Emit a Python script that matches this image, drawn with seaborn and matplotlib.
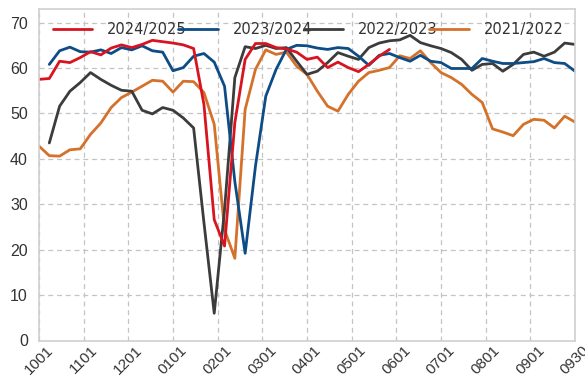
import numpy as np
import pandas as pd
import seaborn as sns
import matplotlib.pyplot as plt

## data ---------------------------------------------------------------------------------
# weekly index from 10-01 (week 0) to 09-30 (week 52)
tick_labels = ['1001', '1101', '1201', '0101', '0201', '0301', '0401',
               '0501', '0601', '0701', '0801', '0901', '0930']

seasons = ['2024/2025', '2023/2024', '2022/2023', '2021/2022']
colors = ['#d7141f', '#0e4c86', '#3c3c3c', '#d4712a']

# 2024/2025, weeks 0-34
s2425 = [57.5, 57.7, 61.5, 61.2, 62.3, 63.6, 62.9, 64.4, 65.1, 64.5,
         65.2, 66.1, 65.8, 65.5, 65.1, 64.3, 52.0, 26.6, 20.8, 48.0,
         61.9, 65.4, 65.4, 64.5, 64.2, 63.5, 61.9, 62.4, 60.1, 61.3,
         60.1, 59.2, 60.8, 62.6, 64.1]
# 2023/2024, weeks 1-52
s2324 = [60.8, 63.8, 64.6, 63.6, 63.5, 64.0, 63.2, 64.5, 64.0, 64.9,
         63.8, 63.5, 59.4, 60.1, 62.6, 63.2, 61.3, 56.0, 35.0, 19.2,
         38.4, 53.8, 59.7, 64.1, 65.0, 64.9, 64.4, 64.1, 64.5, 64.3,
         62.6, 60.6, 62.8, 63.2, 62.3, 61.5, 62.8, 61.5, 61.2, 59.9,
         59.9, 59.9, 62.1, 61.5, 61.0, 61.0, 61.2, 61.4, 62.1, 61.2,
         61.0, 59.3]
# 2022/2023, weeks 1-52
s2223 = [43.5, 51.6, 54.9, 56.8, 59.0, 57.5, 56.2, 55.1, 54.9, 50.7,
         49.9, 51.3, 50.7, 49.0, 46.8, 26.0, 6.0, 28.8, 57.9, 64.7,
         64.3, 65.0, 64.3, 64.5, 61.5, 58.6, 59.3, 61.2, 63.4, 62.6,
         61.9, 64.5, 65.5, 66.0, 66.2, 67.2, 65.6, 64.9, 64.3, 63.4,
         61.9, 59.5, 60.8, 61.0, 59.3, 60.8, 63.0, 63.5, 62.6, 63.5,
         65.5, 65.2]
# 2021/2022, weeks 0-52
s2122 = [42.8, 40.7, 40.6, 42.0, 42.2, 45.4, 47.9, 51.3, 53.5, 54.7,
         56.0, 57.3, 57.1, 54.7, 57.1, 57.0, 54.6, 47.6, 24.4, 18.1,
         50.9, 59.7, 64.0, 63.0, 63.5, 60.4, 58.6, 54.9, 51.6, 50.5,
         54.2, 57.1, 59.0, 59.5, 60.1, 62.7, 62.1, 63.8, 61.2, 59.0,
         57.9, 56.4, 54.2, 52.4, 46.6, 45.9, 45.1, 47.6, 48.7, 48.5,
         46.8, 49.4, 48.1]
starts = [0, 1, 1, 0]

frames = []
for name, start, vals in zip(seasons, starts, [s2425, s2324, s2223, s2122]):
    frames.append(pd.DataFrame({'week': np.arange(start, start + len(vals)),
                                'value': vals, 'season': name}))
df = pd.concat(frames, ignore_index=True)

## plot ---------------------------------------------------------------------------------
sns.set_style('white')
plt.rcParams['font.family'] = ['Liberation Sans', 'DejaVu Sans']

fig = plt.figure(figsize=(5.85, 3.83), dpi=100)
ax = fig.add_axes([39 / 585, 1 - 340.5 / 383, 536 / 585, 331.5 / 383])

pal = dict(zip(seasons, colors))
# draw oldest first so the latest season sits on top
for name in seasons[::-1]:
    sns.lineplot(data=df[df.season == name], x='week', y='value', color=pal[name],
                 linewidth=2, estimator=None, ax=ax, label=name)

ax.set_xlim(0, 52)
ax.set_ylim(0, 73)
ax.set_yticks(range(0, 71, 10))
ax.set_xticks(np.linspace(0, 52, 13))
ax.set_xticklabels(tick_labels, rotation=45, ha='center', fontsize=11, color='#333333')
ax.tick_params(axis='y', labelsize=11.5, colors='#333333', length=0, pad=8)
ax.tick_params(axis='x', length=0, pad=2)
ax.set_xlabel('')
ax.set_ylabel('')
ax.grid(True, color='#c4c4c4', linestyle=(0, (4, 3)), linewidth=0.9)
for sp in ax.spines.values():
    sp.set_color('#d0d0d0')
    sp.set_linewidth(1.2)

h, l = ax.get_legend_handles_labels()
order = [l.index(s) for s in seasons]
ax.legend([h[i] for i in order], [l[i] for i in order], ncol=4, frameon=False,
          loc='center left', bbox_to_anchor=(0.026, 0.937), borderpad=0, borderaxespad=0,
          handlelength=2.7, handletextpad=1.0, columnspacing=-0.55,
          prop={'family': 'DejaVu Sans', 'size': 10.5},
          labelcolor='#333333')

fig.savefig('out.png', dpi=100)
